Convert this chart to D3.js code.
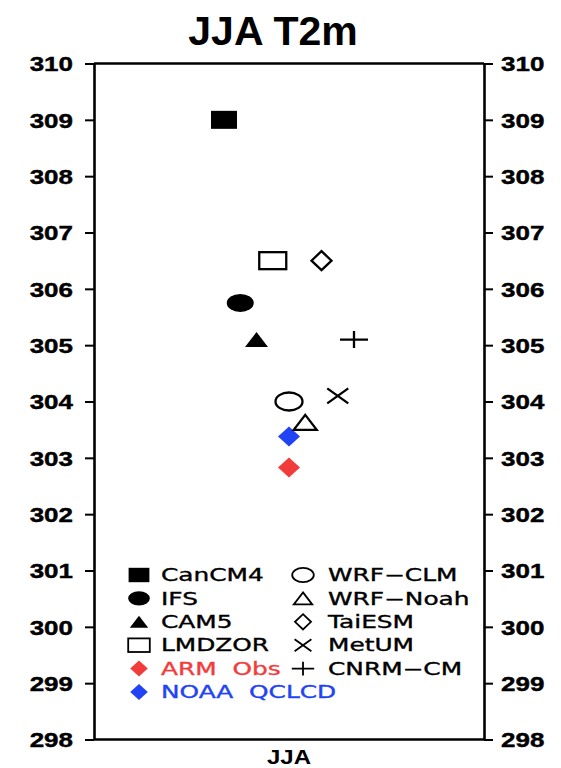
<!DOCTYPE html>
<html>
<head>
<meta charset="utf-8">
<script src="https://cdn.jsdelivr.net/npm/d3@7"></script>
<style>
  html, body { margin: 0; padding: 0; background: #fff; }
  svg { display: block; }
</style>
</head>
<body>
<svg id="chart" width="561" height="768"></svg>
<script>
// Seasonal (JJA) 2 m temperature, K, per model and observation set
const models = ["CanCM4", "IFS", "CAM5", "LMDZOR", "ARM  Obs", "NOAA  QCLCD",
                "WRF−CLM", "WRF−Noah", "TaiESM", "MetUM", "CNRM−CM"];
const t2m = [309.0, 305.75, 305.1, 306.5, 302.83, 303.38,
             304.0, 303.63, 306.5, 304.1, 305.1];
// side-by-side slot of each entry around the JJA category
const slot = [-4, -3, -2, -1, 0, 0, 0, 1, 2, 3, 4];
const yTicks = [298, 299, 300, 301, 302, 303, 304, 305, 306, 307, 308, 309, 310];
const category = "JJA";
const title = "JJA T2m";

// marker appearance per entry
const RED = "#f23c3c", BLUE = "#2243f4";
const markerStyle = {
  "CanCM4":      { shape: "square",   filled: true,  color: "#000" },
  "IFS":         { shape: "circle",   filled: true,  color: "#000" },
  "CAM5":        { shape: "triangle", filled: true,  color: "#000" },
  "LMDZOR":      { shape: "square",   filled: false, color: "#000" },
  "ARM  Obs":    { shape: "diamond",  filled: true,  color: RED },
  "NOAA  QCLCD": { shape: "diamond",  filled: true,  color: BLUE },
  "WRF−CLM":     { shape: "circle",   filled: false, color: "#000" },
  "WRF−Noah":    { shape: "triangle", filled: false, color: "#000" },
  "TaiESM":      { shape: "diamond",  filled: false, color: "#000" },
  "MetUM":       { shape: "cross",    filled: false, color: "#000" },
  "CNRM−CM":     { shape: "plus",     filled: false, color: "#000" }
};
// marker box (width, height) in the plot
const markerSize = {
  square: [26, 18], circle: [27, 18], triangle: [23, 15],
  diamond: [22, 20], cross: [21, 15], plus: [28, 17]
};
const openSquareSize = [27, 17];
const openDiamondSize = [20, 19];

const svg = d3.select("#chart");
const margin = { left: 94, right: 484, top: 63.5, bottom: 739.5 };

const y = d3.scaleLinear().domain([298, 310]).range([margin.bottom, margin.top]);
const x = d3.scaleLinear().domain([-12, 12]).range([margin.left, margin.right]);

// title
svg.append("text")
  .attr("x", 273).attr("y", 45)
  .attr("text-anchor", "middle")
  .style("font-family", "'Liberation Sans', Arial, sans-serif")
  .style("font-weight", "bold")
  .style("font-size", "41px")
  .text(title);

// frame: top and bottom lines
svg.append("line")
  .attr("x1", margin.left).attr("x2", margin.right)
  .attr("y1", margin.top).attr("y2", margin.top)
  .attr("stroke", "#000").attr("stroke-width", 2.4);
svg.append("line")
  .attr("x1", margin.left).attr("x2", margin.right)
  .attr("y1", margin.bottom).attr("y2", margin.bottom)
  .attr("stroke", "#000").attr("stroke-width", 2.4);

const tickFont = g => g.selectAll("text")
  .style("font-family", "'Liberation Sans', Arial, sans-serif")
  .style("font-weight", "bold")
  .style("font-size", "20px")
  .attr("fill", "#000")
  .attr("stroke", "#000")
  .attr("stroke-width", 0.4);

const leftAxis = svg.append("g")
  .attr("transform", `translate(${margin.left},0)`)
  .call(d3.axisLeft(y).tickValues(yTicks).tickSize(9).tickSizeOuter(0).tickFormat(d3.format("d")));
const rightAxis = svg.append("g")
  .attr("transform", `translate(${margin.right},0)`)
  .call(d3.axisRight(y).tickValues(yTicks).tickSize(9).tickSizeOuter(0).tickFormat(d3.format("d")));

[leftAxis, rightAxis].forEach(ax => {
  ax.select(".domain").attr("stroke", "#000").attr("stroke-width", 2.6);
  ax.selectAll(".tick line").attr("stroke", "#000").attr("stroke-width", 2);
  ax.call(tickFont);
});
// widen the tick numerals horizontally about their anchor
leftAxis.selectAll(".tick text")
  .attr("x", 0).attr("dy", "0.36em")
  .attr("transform", "translate(-21,0) scale(1.3,1)");
rightAxis.selectAll(".tick text")
  .attr("x", 0).attr("dy", "0.36em")
  .attr("transform", "translate(17,0) scale(1.3,1)");

// category label
svg.append("text")
  .attr("transform", `translate(${x(0)},763.5) scale(1.2,1)`)
  .attr("text-anchor", "middle")
  .style("font-family", "'Liberation Sans', Arial, sans-serif")
  .style("font-weight", "bold")
  .style("font-size", "20px")
  .text(category);

// draws one marker centred on (cx, cy) inside box w x h
function drawMarker(g, st, cx, cy, w, h, sw) {
  const hw = w / 2, hh = h / 2;
  let el;
  switch (st.shape) {
    case "square":
      el = g.append("rect").attr("x", cx - hw).attr("y", cy - hh)
        .attr("width", w).attr("height", h);
      break;
    case "circle":
      el = g.append("ellipse").attr("cx", cx).attr("cy", cy)
        .attr("rx", hw).attr("ry", hh);
      break;
    case "triangle":
      el = g.append("path").attr("d",
        `M${cx},${cy - hh}L${cx + hw},${cy + hh}L${cx - hw},${cy + hh}Z`);
      break;
    case "diamond":
      el = g.append("path").attr("d",
        `M${cx},${cy - hh}L${cx + hw},${cy}L${cx},${cy + hh}L${cx - hw},${cy}Z`);
      break;
    case "cross":
      el = g.append("path").attr("d",
        `M${cx - hw},${cy - hh}L${cx + hw},${cy + hh}M${cx - hw},${cy + hh}L${cx + hw},${cy - hh}`);
      break;
    case "plus":
      el = g.append("path").attr("d",
        `M${cx - hw},${cy}L${cx + hw},${cy}M${cx},${cy - hh}L${cx},${cy + hh}`);
      break;
  }
  if (st.filled) {
    el.attr("fill", st.color).attr("stroke", "none");
  } else {
    el.attr("fill", "none").attr("stroke", st.color).attr("stroke-width", sw);
  }
}

function boxFor(st) {
  if (st.shape === "square" && !st.filled) return openSquareSize;
  if (st.shape === "diamond" && !st.filled) return openDiamondSize;
  return markerSize[st.shape];
}

// data markers
const marks = svg.append("g");
models.forEach((m, i) => {
  const st = markerStyle[m];
  const [w, h] = boxFor(st);
  drawMarker(marks, st, x(slot[i]), y(t2m[i]), w, h, 2.3);
});

// legend: first six entries in the left column, the rest on the right
const legend = svg.append("g");
const legendRow0 = 575, legendStep = 23.4;
const legendCols = [{ sym: 139, text: 161 }, { sym: 303, text: 328 }];
models.forEach((m, i) => {
  const col = i < 6 ? 0 : 1;
  const row = i < 6 ? i : i - 6;
  const cy = legendRow0 + row * legendStep;
  const st = markerStyle[m];
  const [w, h] = boxFor(st);
  const k = 0.8;
  drawMarker(legend, st, legendCols[col].sym, cy, w * k, h * k, 1.8);
  legend.append("text")
    .attr("transform", `translate(${legendCols[col].text},${cy + 6.2}) scale(1.46,1)`)
    .style("font-family", "'DejaVu Sans', sans-serif")
    .style("font-size", "17px")
    .style("white-space", "pre")
    .attr("fill", st.color)
    .attr("stroke", st.color)
    .attr("stroke-width", 0.35)
    .text(m);
});
</script>
</body>
</html>
